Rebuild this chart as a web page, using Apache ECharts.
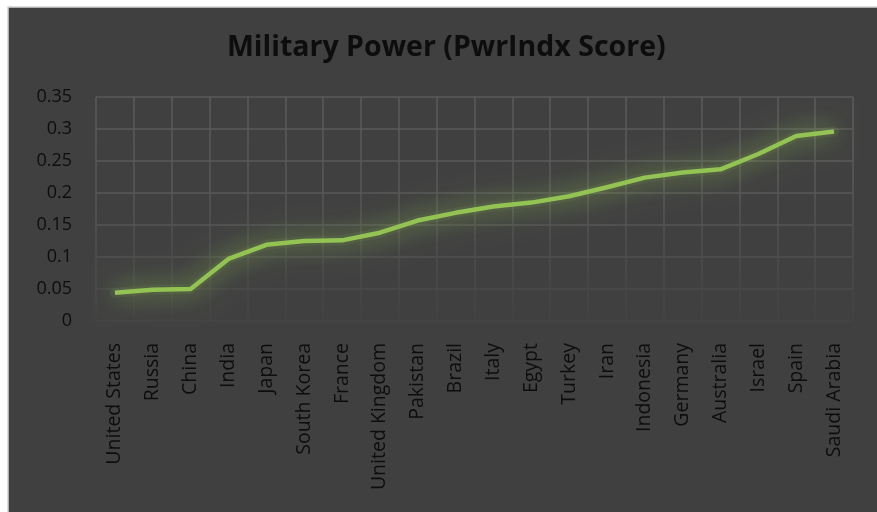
<!DOCTYPE html>
<html>
<head>
<meta charset="utf-8">
<script src="https://cdn.jsdelivr.net/npm/echarts@6/dist/echarts.min.js"></script>
<style>
html,body{margin:0;padding:0;background:#ffffff;}
#chart{width:877px;height:512px;}
</style>
</head>
<body>
<div id="chart"></div>
<script>
const categories = ["United States","Russia","China","India","Japan","South Korea","France","United Kingdom","Pakistan","Brazil","Italy","Egypt","Turkey","Iran","Indonesia","Germany","Australia","Israel","Spain","Saudi Arabia"];
const scores = [0.044,0.049,0.050,0.097,0.119,0.125,0.126,0.138,0.157,0.169,0.179,0.185,0.195,0.209,0.224,0.232,0.237,0.261,0.289,0.296];
const yTicks = {min:0, max:0.35, interval:0.05};
const titleText = "Military Power (PwrIndx Score)";

const chart = echarts.init(document.getElementById('chart'), null, {renderer:'canvas'});
const font = "'Open Sans', 'Noto Sans', sans-serif";
const txt = '#0d0d0d';
const vGrad = new echarts.graphic.LinearGradient(0, 97, 0, 321, [
  {offset:0, color:'#5a5a5a'},
  {offset:0.4, color:'#585858'},
  {offset:1, color:'#424242'}
], true);
chart.setOption({
  backgroundColor:'#ffffff',
  animation:false,
  graphic:[{
    type:'rect', z:-10, silent:true,
    shape:{x:8, y:7, width:875, height:510},
    style:{fill:'#404040', stroke:'#d4d4d4', lineWidth:1.5}
  }],
  title:{
    text:titleText,
    left:222, top:28,
    textStyle:{fontFamily:font, fontSize:28.5, fontWeight:'bold', color:txt}
  },
  grid:{left:96, right:24, top:97, bottom:191, containLabel:false},
  xAxis:{
    type:'category',
    data:categories,
    boundaryGap:true,
    axisLine:{show:false},
    axisTick:{show:false},
    axisLabel:{rotate:90, margin:22, interval:0, fontFamily:font, fontSize:19.5, color:txt},
    splitLine:{show:true, interval:0, lineStyle:{color:vGrad, width:1.5}}
  },
  yAxis:{
    type:'value',
    min:yTicks.min, max:yTicks.max, interval:yTicks.interval,
    axisLine:{show:false},
    axisTick:{show:false},
    axisLabel:{margin:24, fontFamily:font, fontSize:18, color:txt},
    splitLine:{show:true, lineStyle:{color:['#454545','#4a4a4a','#505050','#565656','#595959','#5a5a5a','#5a5a5a','#5a5a5a'], width:1.5}}
  },
  series:[{
    name:'glow',
    type:'line',
    data:scores,
    symbol:'none',
    silent:true,
    z:1,
    lineStyle:{color:'rgba(146,195,83,0.09)', width:10, cap:'round', join:'round', shadowBlur:28, shadowColor:'rgba(146,195,83,1)'}
  },{
    name:'score',
    type:'line',
    data:scores,
    symbol:'none',
    z:3,
    lineStyle:{color:'#92c353', width:4.5, shadowBlur:24, shadowColor:'rgba(146,195,83,1)'}
  }]
});
</script>
</body>
</html>
